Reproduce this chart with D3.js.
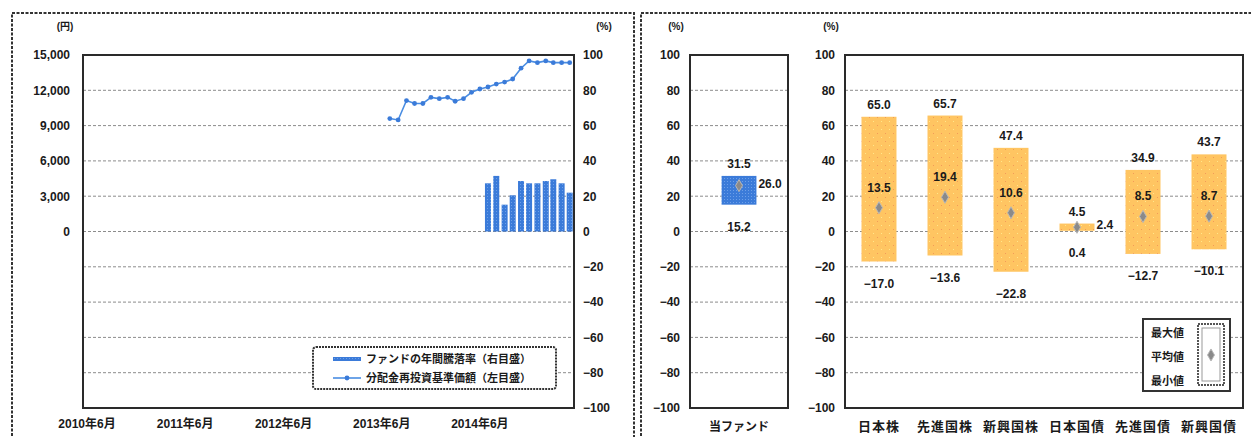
<!DOCTYPE html>
<html>
<head>
<meta charset="utf-8">
<script src="https://cdn.jsdelivr.net/npm/d3@7"></script>
<style>
  body { margin: 0; background: #fff; }
  svg text { font-family: "Liberation Sans", "Noto Sans CJK JP", sans-serif; fill: #1a1a1a; }
</style>
</head>
<body>
<script>
// --- data ---
var yenTicks = [0, 3000, 6000, 9000, 12000, 15000];
var pctTicks = [100, 80, 60, 40, 20, 0, -20, -40, -60, -80, -100];
var yearLabels = ["2010-06", "2011-06", "2012-06", "2013-06", "2014-06"];

// 分配金再投資基準価額 (monthly, yen)
var navMonths = ["2013-07", "2013-08", "2013-09", "2013-10", "2013-11", "2013-12",
                 "2014-01", "2014-02", "2014-03", "2014-04", "2014-05", "2014-06",
                 "2014-07", "2014-08", "2014-09", "2014-10", "2014-11", "2014-12",
                 "2015-01", "2015-02", "2015-03", "2015-04", "2015-05"];
var navValues = [9600, 9480, 11130, 10880, 10880, 11400, 11290, 11400, 11070, 11290, 11830, 12110,
                 12280, 12530, 12700, 12960, 13880, 14500, 14350, 14500, 14350, 14350, 14350];

// ファンドの年間騰落率 (%)
var retMonths = ["2014-07", "2014-08", "2014-09", "2014-10", "2014-11", "2014-12",
                 "2015-01", "2015-02", "2015-03", "2015-04", "2015-05"];
var retValues = [27.3, 31.5, 15.2, 20.5, 28.6, 27.3, 27.3, 28.6, 29.6, 27.3, 22.0];

var fundCats = ["当ファンド"];
var fundMax = [31.5];
var fundAvg = [26.0];
var fundMin = [15.2];

var assetCats = ["日本株", "先進国株", "新興国株", "日本国債", "先進国債", "新興国債"];
var assetMax = [65.0, 65.7, 47.4, 4.5, 34.9, 43.7];
var assetAvg = [13.5, 19.4, 10.6, 2.4, 8.5, 8.7];
var assetMin = [-17.0, -13.6, -22.8, 0.4, -12.7, -10.1];

var W = 1251, H = 437;
var top_ = 55, bottom_ = 408;

var svg = d3.select("body").append("svg")
    .attr("width", W)
    .attr("height", H);

// patterns
var defs = svg.append("defs");
var pb = defs.append("pattern").attr("id", "blueDots")
    .attr("width", 3).attr("height", 3).attr("patternUnits", "userSpaceOnUse");
pb.append("rect").attr("width", 3).attr("height", 3).attr("fill", "#3b7bd9");
pb.append("rect").attr("x", 1).attr("y", 1).attr("width", 1).attr("height", 1).attr("fill", "#6c9fe8");

var po = defs.append("pattern").attr("id", "orangeDots")
    .attr("width", 8).attr("height", 8).attr("patternUnits", "userSpaceOnUse");
po.append("rect").attr("width", 8).attr("height", 8).attr("fill", "#ffc562");
po.append("rect").attr("x", 1).attr("y", 1).attr("width", 1).attr("height", 1).attr("fill", "#ffe88a");
po.append("rect").attr("x", 5).attr("y", 5).attr("width", 1).attr("height", 1).attr("fill", "#f39a58");

// panel borders (dashed frames)
var frame = svg.append("g").attr("fill", "none").attr("stroke", "#333")
    .attr("stroke-width", 2).attr("stroke-dasharray", "3,1.5");
frame.append("rect").attr("x", 12).attr("y", 13).attr("width", 622).attr("height", 440);
frame.append("rect").attr("x", 641).attr("y", 13).attr("width", 640).attr("height", 440);

var parseM = d3.timeParse("%Y-%m");

// ================= left chart =================
var x = d3.scaleTime()
    .domain([new Date(2010, 4, 17), new Date(2015, 4, 17)])
    .range([83, 574]);
var yYen = d3.scaleLinear().domain([-15000, 15000]).range([bottom_, top_]);
var yPct = d3.scaleLinear().domain([-100, 100]).range([bottom_, top_]);

var left = svg.append("g");

left.append("g").selectAll("line")
    .data(pctTicks.filter(function(d) { return d != 100 && d != -100; }))
    .enter().append("line")
    .attr("x1", 83).attr("x2", 574)
    .attr("y1", function(d) { return yPct(d); })
    .attr("y2", function(d) { return yPct(d); })
    .attr("stroke", "#8c8c8c").attr("stroke-width", 1).attr("stroke-dasharray", "3,2");

// bars
left.append("g").selectAll("rect")
    .data(retMonths.map(function(m, i) { return {date: parseM(m), v: retValues[i]}; }))
    .enter().append("rect")
    .attr("x", function(d) { return x(d.date) - 3; })
    .attr("width", 6)
    .attr("y", function(d) { return yPct(d.v); })
    .attr("height", function(d) { return yPct(0) - yPct(d.v); })
    .attr("fill", "url(#blueDots)");

// nav line
var navData = navMonths.map(function(m, i) { return {date: parseM(m), v: navValues[i]}; });
left.append("path")
    .datum(navData)
    .attr("fill", "none")
    .attr("stroke", "#4a8de2")
    .attr("stroke-width", 1.6)
    .attr("d", d3.line().x(function(d) { return x(d.date); }).y(function(d) { return yYen(d.v); }));
left.append("g").selectAll("circle")
    .data(navData)
    .enter().append("circle")
    .attr("cx", function(d) { return x(d.date); })
    .attr("cy", function(d) { return yYen(d.v); })
    .attr("r", 2.4)
    .attr("fill", "#3b7bd9");

left.append("rect").attr("x", 83).attr("y", top_).attr("width", 491).attr("height", bottom_ - top_)
    .attr("fill", "none").attr("stroke", "#2a2a2a").attr("stroke-width", 2);

// left axis (yen)
var axL = left.append("g").attr("transform", "translate(83,0)")
    .call(d3.axisLeft(yYen).tickValues(yenTicks).tickSize(0).tickPadding(13)
        .tickFormat(d3.format(",")));
axL.select(".domain").remove();
axL.selectAll("text").attr("font-size", 12).attr("font-weight", "bold")
    .attr("font-family", "Liberation Sans, sans-serif");

// right axis (%)
var axR = left.append("g").attr("transform", "translate(574,0)")
    .call(d3.axisRight(yPct).tickValues(pctTicks).tickSize(0).tickPadding(9)
        .tickFormat(function(d) { return d < 0 ? "\u2212" + Math.abs(d) : d; }));
axR.select(".domain").remove();
axR.selectAll("text").attr("font-size", 12).attr("font-weight", "bold")
    .attr("font-family", "Liberation Sans, sans-serif");

// x labels
left.append("g").selectAll("text")
    .data(yearLabels)
    .enter().append("text")
    .attr("x", function(d) { return x(parseM(d)); })
    .attr("y", 428)
    .attr("text-anchor", "middle")
    .attr("font-size", 12).attr("font-weight", "bold")
    .text(function(d) { var p = d.split("-"); return p[0] + "年" + (+p[1]) + "月"; });

left.append("text").attr("x", 65).attr("y", 30).attr("text-anchor", "middle")
    .attr("font-size", 10).attr("font-weight", "bold").text("(円)");
left.append("text").attr("x", 604).attr("y", 30).attr("text-anchor", "middle")
    .attr("font-size", 10).attr("font-weight", "bold").text("(%)");

// legend
var lg = left.append("g");
lg.append("rect").attr("x", 313).attr("y", 347).attr("width", 243).attr("height", 42).attr("rx", 3)
    .attr("fill", "#fff").attr("stroke", "#333").attr("stroke-width", 2).attr("stroke-dasharray", "2,1");
lg.append("rect").attr("x", 333).attr("y", 357).attr("width", 28).attr("height", 4).attr("fill", "url(#blueDots)");
lg.append("text").attr("x", 366).attr("y", 363).attr("font-size", 11).attr("font-weight", "bold")
    .text("ファンドの年間騰落率（右目盛）");
lg.append("line").attr("x1", 333).attr("x2", 361).attr("y1", 378).attr("y2", 378)
    .attr("stroke", "#4a8de2").attr("stroke-width", 1.6);
lg.append("circle").attr("cx", 347).attr("cy", 378).attr("r", 2.4).attr("fill", "#3b7bd9");
lg.append("text").attr("x", 366).attr("y", 382).attr("font-size", 11).attr("font-weight", "bold")
    .text("分配金再投資基準価額（左目盛）");

// ================= range panels =================
function rangePanel(cats, maxs, avgs, mins, x0, x1, padOuter, fill, catSize, catSpacing) {
    var g = svg.append("g");
    var xb = d3.scaleBand().domain(cats).range([x0, x1]).paddingInner(0.47).paddingOuter(padOuter);
    var data = cats.map(function(c, i) { return {c: c, max: maxs[i], avg: avgs[i], min: mins[i]}; });

    g.append("g").selectAll("line")
        .data(pctTicks.filter(function(d) { return d != 100 && d != -100; }))
        .enter().append("line")
        .attr("x1", x0).attr("x2", x1)
        .attr("y1", function(d) { return yPct(d); })
        .attr("y2", function(d) { return yPct(d); })
        .attr("stroke", "#8c8c8c").attr("stroke-width", 1).attr("stroke-dasharray", "3,2");

    var items = g.selectAll(".item").data(data).enter().append("g").attr("class", "item");
    items.append("rect")
        .attr("x", function(d) { return xb(d.c); })
        .attr("width", xb.bandwidth())
        .attr("y", function(d) { return yPct(d.max); })
        .attr("height", function(d) { return yPct(d.min) - yPct(d.max); })
        .attr("fill", fill);
    items.append("path")
        .attr("transform", function(d) { return "translate(" + (xb(d.c) + xb.bandwidth() / 2) + "," + yPct(d.avg) + ")"; })
        .attr("d", d3.symbol().type(d3.symbolDiamond).size(42))
        .attr("fill", "#8a8a8a").attr("stroke", "#b8b8b8").attr("stroke-width", 1);

    var fmt = function(v) { return v < 0 ? "\u2212" + Math.abs(v).toFixed(1) : v.toFixed(1); };
    items.append("text")
        .attr("x", function(d) { return xb(d.c) + xb.bandwidth() / 2; })
        .attr("y", function(d) { return yPct(d.max) - 8; })
        .attr("text-anchor", "middle").attr("font-size", 12).attr("font-weight", "bold")
        .text(function(d) { return fmt(d.max); });
    items.append("text")
        .attr("x", function(d) { return xb(d.c) + xb.bandwidth() / 2; })
        .attr("y", function(d) { return yPct(d.min) + 26; })
        .attr("text-anchor", "middle").attr("font-size", 12).attr("font-weight", "bold")
        .text(function(d) { return fmt(d.min); });
    items.append("text")
        .attr("x", function(d) {
            return d.max - d.min < 20 ? xb(d.c) + xb.bandwidth() + 2 : xb(d.c) + xb.bandwidth() / 2;
        })
        .attr("y", function(d) { return d.max - d.min < 20 ? yPct(d.avg) + 2 : yPct(d.avg) - 16; })
        .attr("text-anchor", function(d) { return d.max - d.min < 20 ? "start" : "middle"; })
        .attr("font-size", 12).attr("font-weight", "bold")
        .text(function(d) { return fmt(d.avg); });

    g.append("rect").attr("x", x0).attr("y", top_).attr("width", x1 - x0).attr("height", bottom_ - top_)
        .attr("fill", "none").attr("stroke", "#2a2a2a").attr("stroke-width", 2);

    var ax = g.append("g").attr("transform", "translate(" + x0 + ",0)")
        .call(d3.axisLeft(yPct).tickValues(pctTicks).tickSize(0).tickPadding(10)
            .tickFormat(function(d) { return d < 0 ? "\u2212" + Math.abs(d) : d; }));
    ax.select(".domain").remove();
    ax.selectAll("text").attr("font-size", 12).attr("font-weight", "bold")
        .attr("font-family", "Liberation Sans, sans-serif");

    g.append("text").attr("x", x0 - 14).attr("y", 30).attr("text-anchor", "middle")
        .attr("font-size", 10).attr("font-weight", "bold").text("(%)");

    g.append("g").selectAll("text").data(cats).enter().append("text")
        .attr("x", function(d) { return xb(d) + xb.bandwidth() / 2; })
        .attr("y", 431)
        .attr("text-anchor", "middle")
        .attr("font-size", catSize).attr("font-weight", "bold")
        .attr("letter-spacing", catSpacing)
        .text(function(d) { return d; });
    return g;
}

rangePanel(fundCats, fundMax, fundAvg, fundMin, 690, 788, 0.48, "url(#blueDots)", 12, 0);
var rp = rangePanel(assetCats, assetMax, assetAvg, assetMin, 845, 1243, 0.25, "url(#orangeDots)", 13, 1);

// right legend
var rl = rp.append("g");
rl.append("rect").attr("x", 1143).attr("y", 319).attr("width", 87).attr("height", 72)
    .attr("fill", "#fff").attr("stroke", "#333").attr("stroke-width", 2);
["最大値", "平均値", "最小値"].forEach(function(t, i) {
    rl.append("text").attr("x", 1151).attr("y", 337 + i * 24)
        .attr("font-size", 11).attr("font-weight", "bold").text(t);
});
rl.append("rect").attr("x", 1198).attr("y", 324).attr("width", 26).attr("height", 61)
    .attr("fill", "#fff").attr("stroke", "#555").attr("stroke-width", 2).attr("stroke-dasharray", "2,1");
rl.append("rect").attr("x", 1202).attr("y", 328).attr("width", 18).attr("height", 53)
    .attr("fill", "none").attr("stroke", "#999").attr("stroke-width", 1);
rl.append("path").attr("transform", "translate(1211,355)")
    .attr("d", d3.symbol().type(d3.symbolDiamond).size(42))
    .attr("fill", "#8a8a8a").attr("stroke", "#b8b8b8");
</script>
</body>
</html>
